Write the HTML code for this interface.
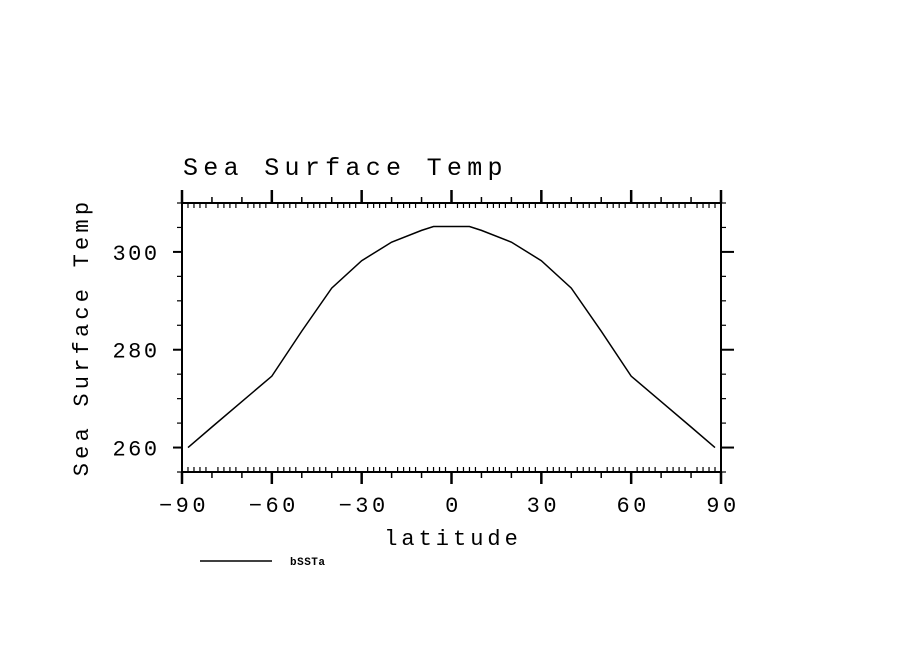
<!DOCTYPE html>
<html><head><meta charset="utf-8"><style>
body{margin:0;background:#fff}
svg text{font-family:"Liberation Mono",monospace;fill:#000}
</style></head><body>
<svg id="chart" width="904" height="654" viewBox="0 0 904 654" xmlns="http://www.w3.org/2000/svg">
<rect width="904" height="654" fill="#fff"/>
<text x="183" y="175" font-size="25" letter-spacing="5.3">Sea Surface Temp</text>
<text x="453" y="545" font-size="22" letter-spacing="4" text-anchor="middle">latitude</text>
<text transform="translate(88,337) rotate(-90)" font-size="22" letter-spacing="4.2" text-anchor="middle">Sea Surface Temp</text>
<g id="axes"></g>
<g id="series"></g>
<line x1="200" y1="561" x2="272" y2="561" stroke="#000" stroke-width="1.5"/>
<text x="290" y="565" font-size="11" font-weight="bold" letter-spacing="0.5">bSSTa</text>
</svg>
<script>
const lats=[-88,-80,-70,-60,-50,-40,-30,-20,-10,-6,0,6,10,20,30,40,50,60,70,80,88];
const sst=[260,264.2,269.4,274.6,283.8,292.6,298.2,302,304.4,305.2,305.2,305.2,304.4,302,298.2,292.6,283.8,274.6,269.4,264.2,260];
const xTicks=[-90,-60,-30,0,30,60,90];
const yTicks=[260,280,300];
const X0=182,X1=721,Y0=472,Y1=203,xmin=-90,xmax=90,ymin=255,ymax=310;
const sx=v=>X0+(v-xmin)/(xmax-xmin)*(X1-X0);
const sy=v=>Y0-(v-ymin)/(ymax-ymin)*(Y0-Y1);
const NS='http://www.w3.org/2000/svg';
const axes=document.getElementById('axes');
function ln(x1,y1,x2,y2,w,name){const l=document.createElementNS(NS,'line');
l.setAttribute('x1',x1);l.setAttribute('y1',y1);l.setAttribute('x2',x2);l.setAttribute('y2',y2);
l.setAttribute('stroke','#000');l.setAttribute('stroke-width',w);


axes.appendChild(l);}
const fr=document.createElementNS(NS,'rect');
fr.setAttribute('x',X0);fr.setAttribute('y',Y1);fr.setAttribute('width',X1-X0);fr.setAttribute('height',Y0-Y1);
fr.setAttribute('fill','none');fr.setAttribute('stroke','#000');fr.setAttribute('stroke-width','2');


axes.appendChild(fr);
for(let v=-90;v<=90;v+=2){const x=sx(v);
 if(v%30===0){ln(x,Y0,x,Y0+12,2.5,'x-major-tick');ln(x,Y1,x,Y1-13,2.5,'x-major-tick');}
 else if(v%10===0){ln(x,Y0,x,Y0+6,1.5,'x-medium-tick');ln(x,Y1,x,Y1-6,1.5,'x-medium-tick');}
 else {ln(x,Y0,x,Y0-5,1.2,'x-minor-tick');ln(x,Y1,x,Y1+5,1.2,'x-minor-tick');}}
for(let v=255;v<=310;v+=5){const y=sy(v);
 if(v%20===0){ln(X0,y,X0-9,y,2,'y-major-tick');ln(X1,y,X1+13,y,2,'y-major-tick');}
 else {ln(X0,y,X0-5,y,1.2,'y-minor-tick');ln(X1,y,X1+5,y,1.2,'y-minor-tick');}}
xTicks.forEach(v=>{const t=document.createElementNS(NS,'text');
 t.setAttribute('x',sx(v)+2);t.setAttribute('y',512);t.setAttribute('font-size','22');
 t.setAttribute('letter-spacing','3.5');t.setAttribute('text-anchor','middle');
 t.textContent=v<0?'\u2212'+(-v):String(v);
 
 
 axes.appendChild(t);});
yTicks.forEach(v=>{const t=document.createElementNS(NS,'text');
 t.setAttribute('x',X0-46);t.setAttribute('y',sy(v)+8);t.setAttribute('font-size','22');
 t.setAttribute('letter-spacing','2.5');t.setAttribute('text-anchor','middle');
 t.textContent=String(v);
 
 
 axes.appendChild(t);});
const p=document.createElementNS(NS,'polyline');
p.setAttribute('points',lats.map((l,i)=>sx(l)+','+sy(sst[i])).join(' '));
p.setAttribute('fill','none');p.setAttribute('stroke','#000');p.setAttribute('stroke-width','1.5');


document.getElementById('series').appendChild(p);
</script>
</body></html>
